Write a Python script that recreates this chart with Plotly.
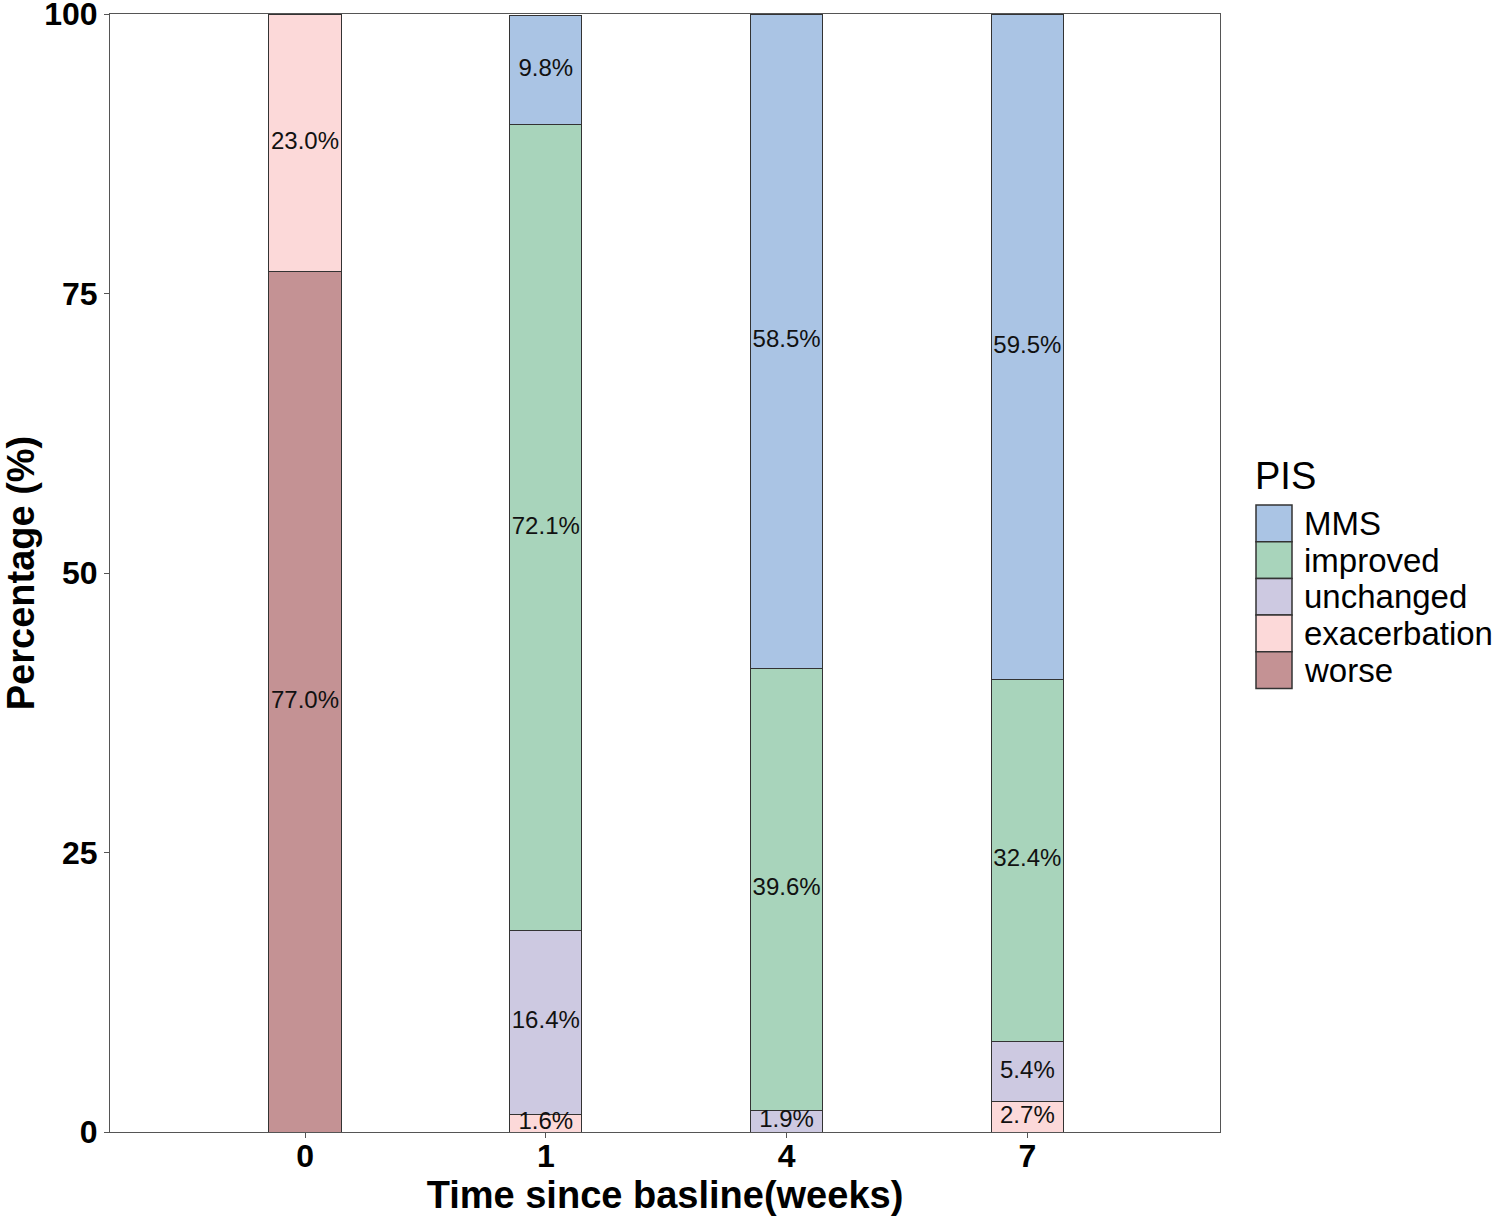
import plotly.graph_objects as go
import numpy as np

times = ["0", "1", "4", "7"]
categories = ["worse", "exacerbation", "unchanged", "improved", "MMS"]
worse = [77.0, 0, 0, 0]
exacerbation = [23.0, 1.6, 0, 2.7]
unchanged = [0, 16.4, 1.9, 5.4]
improved = [0, 72.1, 39.6, 32.4]
mms = [0, 9.8, 58.5, 59.5]
series = [worse, exacerbation, unchanged, improved, mms]
colors = ["#c49294", "#fcd9d9", "#cdc9e1", "#a8d4bb", "#aac4e4"]

FONT = "Liberation Sans, Arial"

fig = go.Figure()
for name, vals, col in zip(categories, series, colors):
    fig.add_trace(go.Bar(
        x=times, y=vals, name=name, width=0.3, showlegend=False,
        marker=dict(color=col, line=dict(color="#333333", width=1)),
    ))

# labels at the middle of each segment
lx, ly, lt = [], [], []
cum = np.zeros(len(times))
for vals in series:
    v = np.array(vals, dtype=float)
    for i in range(len(times)):
        if v[i] > 0:
            lx.append(times[i])
            ly.append(cum[i] + v[i] / 2)
            lt.append(f"{v[i]:.1f}%")
    cum += v
fig.add_trace(go.Scatter(
    x=lx, y=ly, text=lt, mode="text", showlegend=False,
    textfont=dict(family=FONT, size=24, color="#111111"),
    hoverinfo="skip",
))

# manual legend (ggplot style keys)
L, R, T, B = 110, 279, 14, 86
W, H = 1499, 1218
pw, ph = W - L - R, H - T - B
def px(x):
    return (x - L) / pw
def py(y):
    return (H - B - y) / ph

key_top, key_h = 505, 36.7
key_x0, key_x1 = 1256, 1292
shapes = []
annotations = []
legend_items = list(zip(categories, colors))[::-1]
for k, (name, col) in enumerate(legend_items):
    y0 = key_top + k * key_h
    shapes.append(dict(
        type="rect", xref="paper", yref="paper",
        x0=px(key_x0), x1=px(key_x1), y0=py(y0 + key_h), y1=py(y0),
        fillcolor=col, line=dict(color="#333333", width=1.5),
    ))
    annotations.append(dict(
        xref="paper", yref="paper", x=px(1302), y=py(y0 + key_h / 2),
        text=name, showarrow=False, xanchor="left", yanchor="middle",
        font=dict(family=FONT, size=33, color="black"),
    ))
annotations.append(dict(
    xref="paper", yref="paper", x=px(1253), y=py(476),
    text="PIS", showarrow=False, xanchor="left", yanchor="middle",
    font=dict(family=FONT, size=38, color="black"),
))

fig.update_layout(
    barmode="stack",
    width=W, height=H,
    margin=dict(l=L, r=R, t=T, b=B, autoexpand=False),
    plot_bgcolor="white", paper_bgcolor="white",
    font=dict(family=FONT, color="black"),
    showlegend=False,
    shapes=shapes,
    annotations=annotations,
    xaxis=dict(
        type="category", range=[-0.81, 3.8], automargin=False,
        showline=True, mirror=True, linecolor="#555555", linewidth=1,
        ticks="outside", ticklen=5, tickcolor="#555555",
        ticklabelstandoff=-9,
        tickfont=dict(size=32, family=FONT, weight="bold", color="black"),
        title=dict(text="<b>Time since basline(weeks)</b>", font=dict(size=38), standoff=2),
        showgrid=False,
    ),
    yaxis=dict(
        range=[0, 100], tickvals=[0, 25, 50, 75, 100], automargin=False,
        showline=True, mirror=True, linecolor="#555555", linewidth=1,
        ticks="outside", ticklen=5, tickcolor="#555555",
        ticklabeloverflow="allow",
        tickfont=dict(size=32, family=FONT, weight="bold", color="black"),
        title=dict(text="<b>Percentage (%)</b>", font=dict(size=38), standoff=0),
        showgrid=False, zeroline=False,
    ),
)

fig.write_html("out.html")
